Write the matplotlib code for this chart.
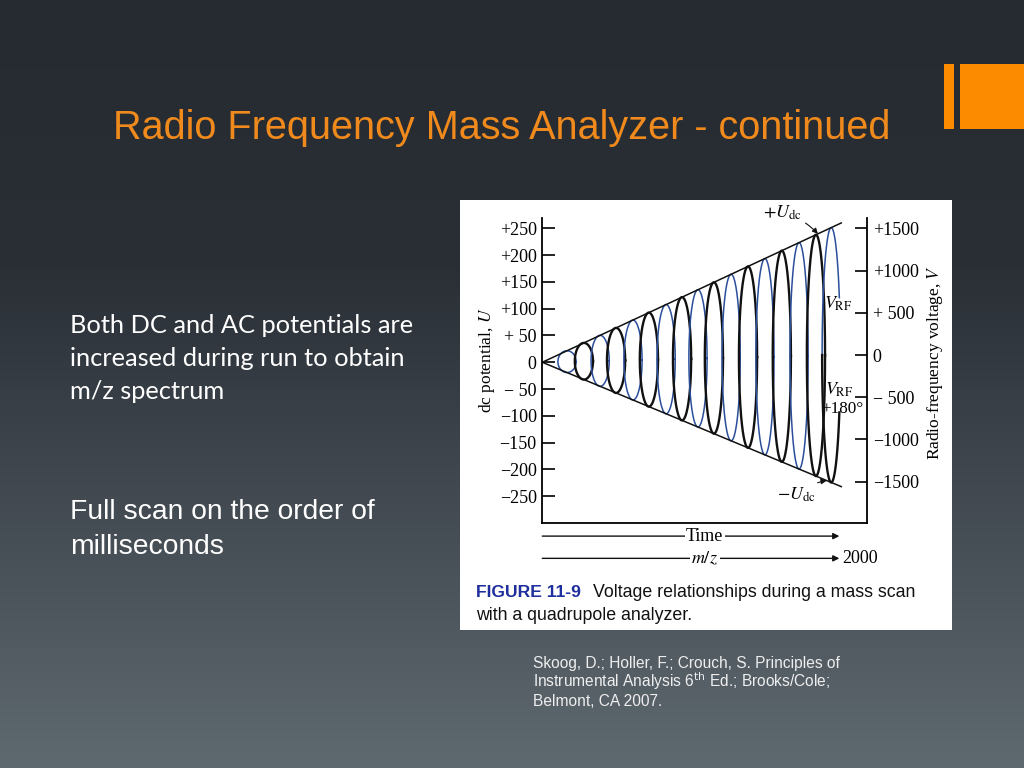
import numpy as np
import matplotlib.pyplot as plt
from matplotlib.patches import Rectangle

W, H = 1024, 768

# --- values ---
# dc potential envelope (time in % of the scan, U in volts)
t_env = [0.0, 92.0]
u_plus = [0.0, 260.0]
u_minus = [0.0, -232.0]
# centres of the rf loops, alternating blue (V_RF) and black (V_RF + 180)
t_loop = [7.6, 12.8, 17.8, 22.7, 27.9, 32.8, 38.1, 43.0, 47.9,
          52.8, 58.1, 63.3, 68.5, 73.7, 79.0, 84.2, 88.9]
loop_half_width = 2.8
t_end = 91.4
u_ticks = [250, 200, 150, 100, 50, 0, -50, -100, -150, -200, -250]
u_labels = ['+250', '+200', '+150', '+100', '+ 50', '0', '\u2212 50',
            '\u2212100', '\u2212150', '\u2212200', '\u2212250']
v_ticks = [1500, 1000, 500, 0, -500, -1000, -1500]
v_labels = ['+1500', '+1000', '+ 500', '0', '\u2212 500', '\u22121000', '\u22121500']
mz_max = 2000

BLUE = '#2b4e9b'
BLACK = '#111111'

plt.rcParams['font.family'] = ['Liberation Serif', 'DejaVu Serif']
plt.rcParams['mathtext.fontset'] = 'stix'

fig = plt.figure(figsize=(W / 100, H / 100), dpi=100)

# background of the slide, drawn in pixel coordinates
bg = fig.add_axes([0, 0, 1, 1])
bg.set_xlim(0, W)
bg.set_ylim(H, 0)
bg.axis('off')
stops = [0.0, 0.35, 1.0]
cols = np.array([[38, 43, 49], [42, 47, 54], [95, 105, 112]]) / 255
yy = np.linspace(0, 1, 400)
grad = np.stack([np.interp(yy, stops, cols[:, i]) for i in range(3)], axis=1)
bg.imshow(grad[:, None, :], extent=[0, W, H, 0], aspect='auto')

# orange corner blocks
bg.add_patch(Rectangle((944, 64), 10, 65, facecolor='#fd8b00', edgecolor='none'))
bg.add_patch(Rectangle((959.5, 64), 70, 65, facecolor='#fd8b00', edgecolor='none'))

bg.text(502, 139, 'Radio Frequency Mass Analyzer - continued', ha='center',
        va='baseline', fontsize=28.5, color='#f08a1c', family='Liberation Sans')

body = ['Both DC and AC potentials are', 'increased during run to obtain', 'm/z spectrum']
for i, line in enumerate(body):
    bg.text(70, 333 + 33 * i, line, va='baseline', fontsize=18.3, color='white',
            family='Lato')
for i, line in enumerate(['Full scan on the order of', 'milliseconds']):
    bg.text(70, 519 + 35 * i, line, va='baseline', fontsize=20.3, color='white',
            family='Liberation Sans')

cite = ['Skoog, D.; Holler, F.; Crouch, S. Principles of',
        r'Instrumental Analysis 6$^{\mathrm{th}}$ Ed.; Brooks/Cole;',
        'Belmont, CA 2007.']
for i, line in enumerate(cite):
    bg.text(533, 668 + 19 * i, line, va='baseline', fontsize=11.2, color='#eeeeee',
            family='Liberation Sans', math_fontfamily='dejavusans')

# white picture area with the figure caption
bg.add_patch(Rectangle((460, 200), 492, 430, facecolor='white', edgecolor='none'))
bg.text(476, 597, 'FIGURE 11-9', fontsize=12.6, weight='bold', color='#1f2f9e',
        family='Liberation Sans', va='baseline')
bg.text(593, 597, 'Voltage relationships during a mass scan', fontsize=12.8,
        color=BLACK, family='Liberation Sans', va='baseline')
bg.text(476, 620, 'with a quadrupole analyzer.', fontsize=12.8,
        color=BLACK, family='Liberation Sans', va='baseline')

# --- the voltage diagram ---
ax = fig.add_axes([542.3 / W, 1 - 522.7 / H, 325 / W, 304.7 / H])
ax.patch.set_visible(False)
ax.set_xlim(0, 100)
ax.set_ylim(-299.3, 269.2)

# rf loops between the +U_dc and -U_dc lines
for i, tc in enumerate(t_loop):
    up = np.interp(tc, t_env, u_plus)
    dn = np.interp(tc, t_env, u_minus)
    mid, half = (up + dn) / 2, (up - dn) / 2
    color = BLUE if i % 2 == 0 else BLACK
    lw = 1.1 if color == BLUE else 1.7
    if i < len(t_loop) - 1:
        th = np.linspace(0, 2 * np.pi, 200)
        ax.plot(tc + loop_half_width * np.cos(th), mid + half * np.sin(th),
                color=color, lw=lw)
    else:
        # the scan stops part way through the last loop
        th_end = np.arccos(np.clip((t_end - tc) / loop_half_width, -1, 1))
        th = np.linspace(th_end, np.pi, 100)
        ax.plot(tc + loop_half_width * np.cos(th), mid + half * np.sin(th),
                color=BLUE, lw=1.1)
        th = np.linspace(np.pi, 2 * np.pi - th_end, 100)
        ax.plot(tc + loop_half_width * np.cos(th), mid + half * np.sin(th),
                color=BLACK, lw=1.7)

ax.plot(t_env, u_plus, color=BLACK, lw=1.1)
ax.plot(t_env, u_minus, color=BLACK, lw=1.1)

for s in ['top', 'right']:
    ax.spines[s].set_visible(False)
for s in ['left', 'bottom']:
    ax.spines[s].set_linewidth(1.3)
ax.tick_params(axis='x', bottom=False, labelbottom=False)
ax.set_yticks(u_ticks, u_labels)
ax.tick_params(axis='y', direction='in', length=9.4, width=1.2, pad=4, labelsize=13)

ax2 = ax.twinx()
ax2.set_ylim(-1985, 1622)
for s in ['top', 'left', 'bottom']:
    ax2.spines[s].set_visible(False)
ax2.spines['right'].set_linewidth(1.3)
ax2.set_yticks(v_ticks, v_labels)
ax2.tick_params(axis='y', direction='in', length=8.6, width=1.2, pad=4, labelsize=13)

ax.text(-0.171, 0.534, 'dc potential, $U$', rotation=90, transform=ax.transAxes,
        ha='center', va='center', fontsize=12.5)
ax.text(1.208, 0.524, 'Radio-frequency voltage, $V$', rotation=90,
        transform=ax.transAxes, ha='center', va='center', fontsize=12.5)

arrow = dict(arrowstyle='-|>', color=BLACK, lw=0.8, mutation_scale=8,
             shrinkA=1, shrinkB=0, connectionstyle='arc3,rad=-0.15')
ax.annotate(r'$+U_{\mathrm{dc}}$', xy=(84.8, np.interp(84.8, t_env, u_plus)),
            xytext=(73.8, 279), ha='center', va='center', fontsize=13,
            arrowprops=arrow, annotation_clip=False)
ax.annotate(r'$-U_{\mathrm{dc}}$', xy=(87.5, np.interp(87.5, t_env, u_minus)),
            xytext=(78.3, -248), ha='center', va='center', fontsize=13,
            arrowprops=arrow, annotation_clip=False)
ax.text(91.0, 110, r'$V_{\mathrm{RF}}$', ha='center', va='center', fontsize=13)
ax.text(91.2, -52, r'$V_{\mathrm{RF}}$', ha='center', va='center', fontsize=13)
ax.text(92.3, -87, '+180\u00b0', ha='center', va='center', fontsize=12.3)

# time and m/z arrows under the diagram
xt = ax.get_xaxis_transform()
for yv, lab in [(-0.044, 'Time'), (-0.117, '$m/z$')]:
    ax.annotate('', xy=(t_end, yv), xytext=(0, yv), xycoords=xt, textcoords=xt,
                arrowprops=dict(arrowstyle='-|>', color=BLACK, lw=1.0,
                                mutation_scale=9, shrinkA=0, shrinkB=0),
                annotation_clip=False)
    ax.text(50, yv, lab, transform=xt, ha='center', va='center', fontsize=13,
            bbox=dict(facecolor='white', edgecolor='none', pad=1), zorder=5)
ax.text(t_end + 1.0, -0.117, str(mz_max), transform=xt, ha='left', va='center',
        fontsize=13)

fig.savefig('out.png', dpi=100)
